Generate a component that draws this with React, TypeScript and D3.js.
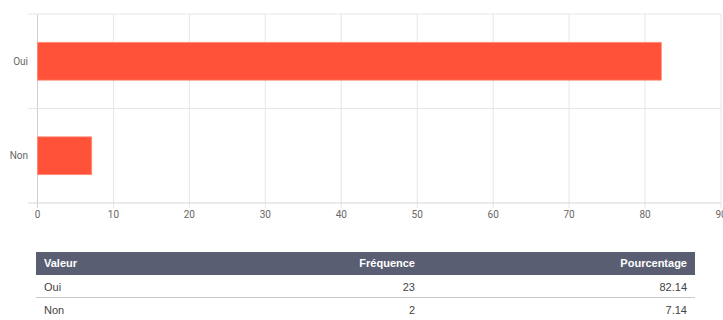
import React from "react";
import * as d3 from "d3";

const categories = ["Oui", "Non"];
const percentages = [82.14, 7.14];
const frequencies = [23, 2];
const xTicks = [0, 10, 20, 30, 40, 50, 60, 70, 80, 90];
const tableHeaders = ["Valeur", "Fréquence", "Pourcentage"];

export default function App() {
  const W = 723, H = 320;
  const x = d3.scaleLinear().domain([0, 90]).range([37.5, 721]);
  const y = d3.scaleBand().domain(categories).range([14, 203]).paddingInner(0).paddingOuter(0);
  const barH = y.bandwidth() * 0.4;
  const font = "Roboto, 'Open Sans', sans-serif";
  const tFont = "'Liberation Sans', Arial, sans-serif";
  const tLeft = 36, tRight = 695, hTop = 252, hBot = 275;
  const colF = 415, colP = 687;
  const rowH = 23;
  return (
    <svg width={W} height={H} style={{ position: "absolute", left: 0, top: 0 }}>
      <rect width={W} height={H} fill="#fff" />
      {/* vertical grid */}
      {xTicks.map((t) => (
        <line key={"g" + t} x1={x(t)} x2={x(t)} y1={14} y2={208} stroke={t === 0 ? "#cfcfcf" : "#e6e6e6"} strokeWidth={1} />
      ))}
      {/* horizontal grid */}
      {[14, 14 + y.bandwidth(), 203].map((yy, i) => (
        <line key={"h" + i} x1={28} x2={721} y1={yy} y2={yy} stroke={i === 2 ? "#d6d6d6" : "#e6e6e6"} strokeWidth={1} />
      ))}
      {/* bars */}
      {categories.map((c, i) => (
        <rect
          key={c}
          x={x(0)}
          y={(y(c) as number) + (y.bandwidth() - barH) / 2}
          width={x(percentages[i]) - x(0)}
          height={barH}
          fill="#ff5238"
          stroke="#ff8a75"
          strokeWidth={0.8}
        />
      ))}
      {/* y labels */}
      {categories.map((c) => (
        <text key={"l" + c} x={28} y={(y(c) as number) + y.bandwidth() / 2} dy="0.35em" textAnchor="end" fontSize={10} fill="#666" fontFamily={font}>
          {c}
        </text>
      ))}
      {/* x labels */}
      {xTicks.map((t) => (
        <text key={"t" + t} x={x(t)} y={214} dy="0.35em" textAnchor="middle" fontSize={10} fill="#666" fontFamily={font}>
          {t}
        </text>
      ))}
      {/* table */}
      <rect x={tLeft} y={hTop} width={tRight - tLeft} height={hBot - hTop} fill="#5a5e73" />
      <text x={44} y={(hTop + hBot) / 2} dy="0.35em" fontSize={11} fontWeight="bold" fill="#fff" fontFamily={tFont}>{tableHeaders[0]}</text>
      <text x={colF} y={(hTop + hBot) / 2} dy="0.35em" textAnchor="end" fontSize={11} fontWeight="bold" fill="#fff" fontFamily={tFont}>{tableHeaders[1]}</text>
      <text x={colP} y={(hTop + hBot) / 2} dy="0.35em" textAnchor="end" fontSize={11} fontWeight="bold" fill="#fff" fontFamily={tFont}>{tableHeaders[2]}</text>
      {categories.map((c, i) => {
        const cy = hBot + rowH * i + 12;
        return (
          <g key={"r" + c}>
            <text x={44} y={cy} dy="0.35em" fontSize={11} fill="#444" fontFamily={tFont}>{c}</text>
            <text x={colF} y={cy} dy="0.35em" textAnchor="end" fontSize={11} fill="#444" fontFamily={tFont}>{frequencies[i]}</text>
            <text x={colP} y={cy} dy="0.35em" textAnchor="end" fontSize={11} fill="#444" fontFamily={tFont}>{percentages[i].toFixed(2)}</text>
            {i === 0 && <line x1={tLeft} x2={tRight} y1={hBot + rowH - 0.5} y2={hBot + rowH - 0.5} stroke="#c8c8d0" strokeWidth={1} />}
          </g>
        );
      })}
    </svg>
  );
}
